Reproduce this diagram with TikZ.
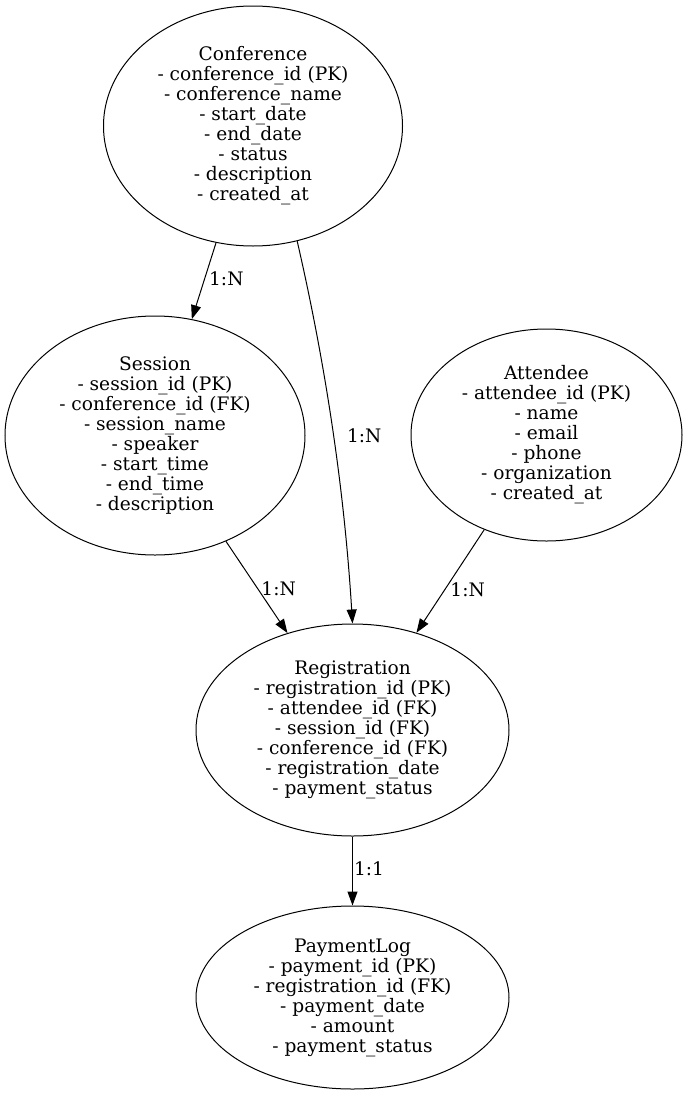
\documentclass[tikz,border=0pt]{standalone}
\usepackage{fontspec}
\setmainfont{DejaVu Serif}
\usetikzlibrary{arrows.meta,shapes.geometric}
\begin{document}
\begin{tikzpicture}[x=1pt,y=-1pt,
  ent/.style={draw, ellipse, line width=1pt, inner sep=0pt, align=center,
    font=\fontsize{18.6}{20}\selectfont},
  rel/.style={draw, line width=1pt, -{Triangle[length=14pt,width=10pt]}},
  lbl/.style={font=\fontsize{18.6}{20}\selectfont, inner sep=0pt, anchor=west}]
\useasboundingbox (0,0) rectangle (688,1095);
\node[ent, minimum width=299pt, minimum height=240pt] (conf) at (253,126)
  {Conference\\- conference\_id (PK)\\- conference\_name\\- start\_date\\- end\_date\\- status\\- description\\- created\_at};
\node[ent, minimum width=300pt, minimum height=239pt] (sess) at (155,435.5)
  {Session\\- session\_id (PK)\\- conference\_id (FK)\\- session\_name\\- speaker\\- start\_time\\- end\_time\\- description};
\node[ent, minimum width=271pt, minimum height=212pt] (att) at (546.5,435)
  {Attendee\\- attendee\_id (PK)\\- name\\- email\\- phone\\- organization\\- created\_at};
\node[ent, minimum width=313pt, minimum height=212pt] (reg) at (352.5,730)
  {Registration\\- registration\_id (PK)\\- attendee\_id (FK)\\- session\_id (FK)\\- conference\_id (FK)\\- registration\_date\\- payment\_status};
\node[ent, minimum width=313pt, minimum height=183pt] (pay) at (352.5,997.5)
  {PaymentLog\\- payment\_id (PK)\\- registration\_id (FK)\\- payment\_date\\- amount\\- payment\_status};
\draw[rel] (conf) -- node[lbl, pos=0.47, xshift=4pt] {1:N} (sess);
\draw[rel] (conf.-69.1) .. controls (328,375) and (345,500) .. node[lbl, pos=0.5, xshift=13pt] {1:N} (reg.90.8);
\draw[rel] (sess) -- node[lbl, pos=0.52, xshift=3pt] {1:N} (reg);
\draw[rel] (att) -- node[lbl, pos=0.58, xshift=5pt] {1:N} (reg);
\draw[rel] (reg) -- node[lbl, pos=0.47, xshift=1pt] {1:1} (pay);
\end{tikzpicture}
\end{document}
